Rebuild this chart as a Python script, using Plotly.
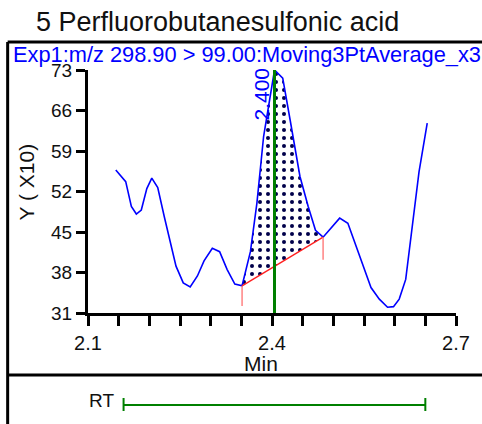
import plotly.graph_objects as go

# ---- data ----
time_min = [2.1453, 2.1615, 2.1707, 2.1788, 2.1869, 2.1959, 2.2040, 2.2137, 2.2245, 2.2338,
            2.2435, 2.2553, 2.2666, 2.2784, 2.2892, 2.3027, 2.3146, 2.3269, 2.3394, 2.3512,
            2.3648, 2.3754, 2.3863, 2.4041, 2.4175, 2.4295, 2.4456, 2.4590, 2.4709, 2.4833,
            2.5103, 2.5237, 2.5346, 2.5480, 2.5614, 2.5750, 2.5884, 2.5981, 2.6074, 2.6180,
            2.6273, 2.6397, 2.6531]
intensity = [55.7, 53.7, 49.4, 48.1, 48.8, 52.5, 54.3, 52.7, 47.6, 43.6,
             39.1, 36.2, 35.5, 37.4, 40.0, 42.2, 41.6, 38.5, 36.0, 35.7,
             41.6, 50.0, 61.5, 73.0, 71.6, 64.4, 54.6, 49.4, 45.3, 44.1,
             47.4, 46.5, 43.3, 39.3, 35.4, 33.4, 32.0, 32.1, 33.4, 36.8,
             44.5, 55.4, 63.8]

peak_start = 2.3512
peak_end = 2.4833
peak_apex = 2.4041
peak_label = "2.400"
baseline_y = [35.7, 44.1]
baseline_drop_y = [32.2, 40.2]
rt_range = [2.158, 2.650]

y_ticks = [31, 38, 45, 52, 59, 66, 73]
x_ticks = [2.1, 2.15, 2.2, 2.25, 2.3, 2.35, 2.4, 2.45, 2.5, 2.55, 2.6, 2.65, 2.7]
x_labels = ["2.1", "", "", "", "", "", "2.4", "", "", "", "", "", "2.7"]

title_text = "5 Perfluorobutanesulfonic acid"
subtitle_text = "Exp1:m/z 298.90 &gt; 99.00:Moving3PtAverage_x3"
y_title = "Y ( X10)"
x_title = "Min"

# ---- geometry ----
W, H = 482, 424
L, R, T, B = 88, 23, 70, 111
PW, PH = W - L - R, H - T - B


def px(x):
    return (x - L) / PW


def py(y):
    return (H - B - y) / PH


FONT = "Liberation Sans, Arial, sans-serif"
BLUE = "#0000ff"
GREEN = "#008000"
INK = "#111111"

fig = go.Figure()

# shaded peak polygon
pk_t = [t for t in time_min if peak_start <= t <= peak_end]
pk_y = [v for t, v in zip(time_min, intensity) if peak_start <= t <= peak_end]
poly_x = pk_t + [peak_end, peak_start, peak_start]
poly_y = pk_y + [baseline_y[1], baseline_y[0], pk_y[0]]
fig.add_trace(go.Scatter(
    x=poly_x, y=poly_y, mode="lines", fill="toself",
    line=dict(width=0, color="rgba(0,0,0,0)"),
    fillcolor="white",
    fillpattern=dict(shape=".", fgcolor="#00004a", bgcolor="white", fgopacity=1,
                     size=8, solidity=0.2),
    hoverinfo="skip", showlegend=False))

# chromatogram
fig.add_trace(go.Scatter(x=time_min, y=intensity, mode="lines",
                         line=dict(color=BLUE, width=1.6), showlegend=False))

# baseline + drop lines
fig.add_trace(go.Scatter(x=[peak_start, peak_end], y=baseline_y, mode="lines",
                         line=dict(color="#ff2020", width=1.4), showlegend=False))
for t, y0, y1 in zip([peak_start, peak_end], baseline_y, baseline_drop_y):
    fig.add_trace(go.Scatter(x=[t, t], y=[y0, y1], mode="lines",
                             line=dict(color="#ff7a7a", width=1.4), showlegend=False))

# apex line
fig.add_trace(go.Scatter(x=[peak_apex, peak_apex], y=[y_ticks[0], max(intensity)], mode="lines",
                         line=dict(color=GREEN, width=3), showlegend=False))

fig.add_annotation(x=peak_apex, y=max(intensity), xref="x", yref="y", text=peak_label,
                   textangle=-90, showarrow=False, xanchor="right", yanchor="top",
                   xshift=0, yshift=4, font=dict(family=FONT, size=21, color=BLUE))

# frame
frame = dict(color="black", width=3)
fig.add_shape(type="line", xref="paper", yref="paper", x0=px(7), x1=px(7), y0=py(42), y1=py(440), line=frame)
fig.add_shape(type="line", xref="paper", yref="paper", x0=px(7), x1=px(500), y0=py(42), y1=py(42), line=frame)
fig.add_shape(type="line", xref="paper", yref="paper", x0=px(7), x1=px(500), y0=py(375), y1=py(375), line=frame)

# RT bar
rt_y = py(405)
fig.add_shape(type="line", xref="x", yref="paper", x0=rt_range[0], x1=rt_range[1], y0=rt_y, y1=rt_y,
              line=dict(color=GREEN, width=2))
for t in rt_range:
    fig.add_shape(type="line", xref="x", yref="paper", x0=t, x1=t, y0=py(398), y1=py(411),
                  line=dict(color=GREEN, width=2))
fig.add_annotation(x=px(116), y=py(400), xref="paper", yref="paper", text="RT", showarrow=False,
                   xanchor="right", yanchor="middle", font=dict(family=FONT, size=19, color=INK))

# titles
fig.add_annotation(x=px(34), y=py(22), xref="paper", yref="paper", text=title_text, showarrow=False,
                   xanchor="left", yanchor="middle", font=dict(family=FONT, size=27, color=INK))
fig.add_annotation(x=px(10), y=py(55), xref="paper", yref="paper", text=subtitle_text, showarrow=False,
                   xanchor="left", yanchor="middle", font=dict(family=FONT, size=21.8, color=BLUE))
fig.add_annotation(x=px(25), y=py(182), xref="paper", yref="paper", text=y_title, textangle=-90,
                   showarrow=False, xanchor="center", yanchor="middle",
                   font=dict(family=FONT, size=21, color=INK))
fig.add_annotation(x=px(262), y=py(363), xref="paper", yref="paper", text=x_title, showarrow=False,
                   xanchor="center", yanchor="middle", font=dict(family=FONT, size=21, color=INK))

axis_common = dict(showgrid=False, zeroline=False, showline=True, linecolor="black", linewidth=3,
                   ticks="outside", tickcolor="black", tickwidth=2.5)
fig.update_xaxes(range=[2.1, 2.7], tickmode="array", tickvals=x_ticks, ticktext=x_labels,
                 ticklen=10, tickfont=dict(family=FONT, size=20, color=INK), **axis_common)
fig.update_yaxes(range=[31, 73], tickmode="array", tickvals=y_ticks, ticklen=9,
                 tickfont=dict(family=FONT, size=19, color=INK), **axis_common)

fig.update_layout(width=W, height=H, margin=dict(l=L, r=R, t=T, b=B, pad=0),
                  plot_bgcolor="white", paper_bgcolor="white", showlegend=False,
                  font=dict(family=FONT))

fig.write_html("out.html", config={"displayModeBar": False},
               post_script="document.body.style.margin='0';")
